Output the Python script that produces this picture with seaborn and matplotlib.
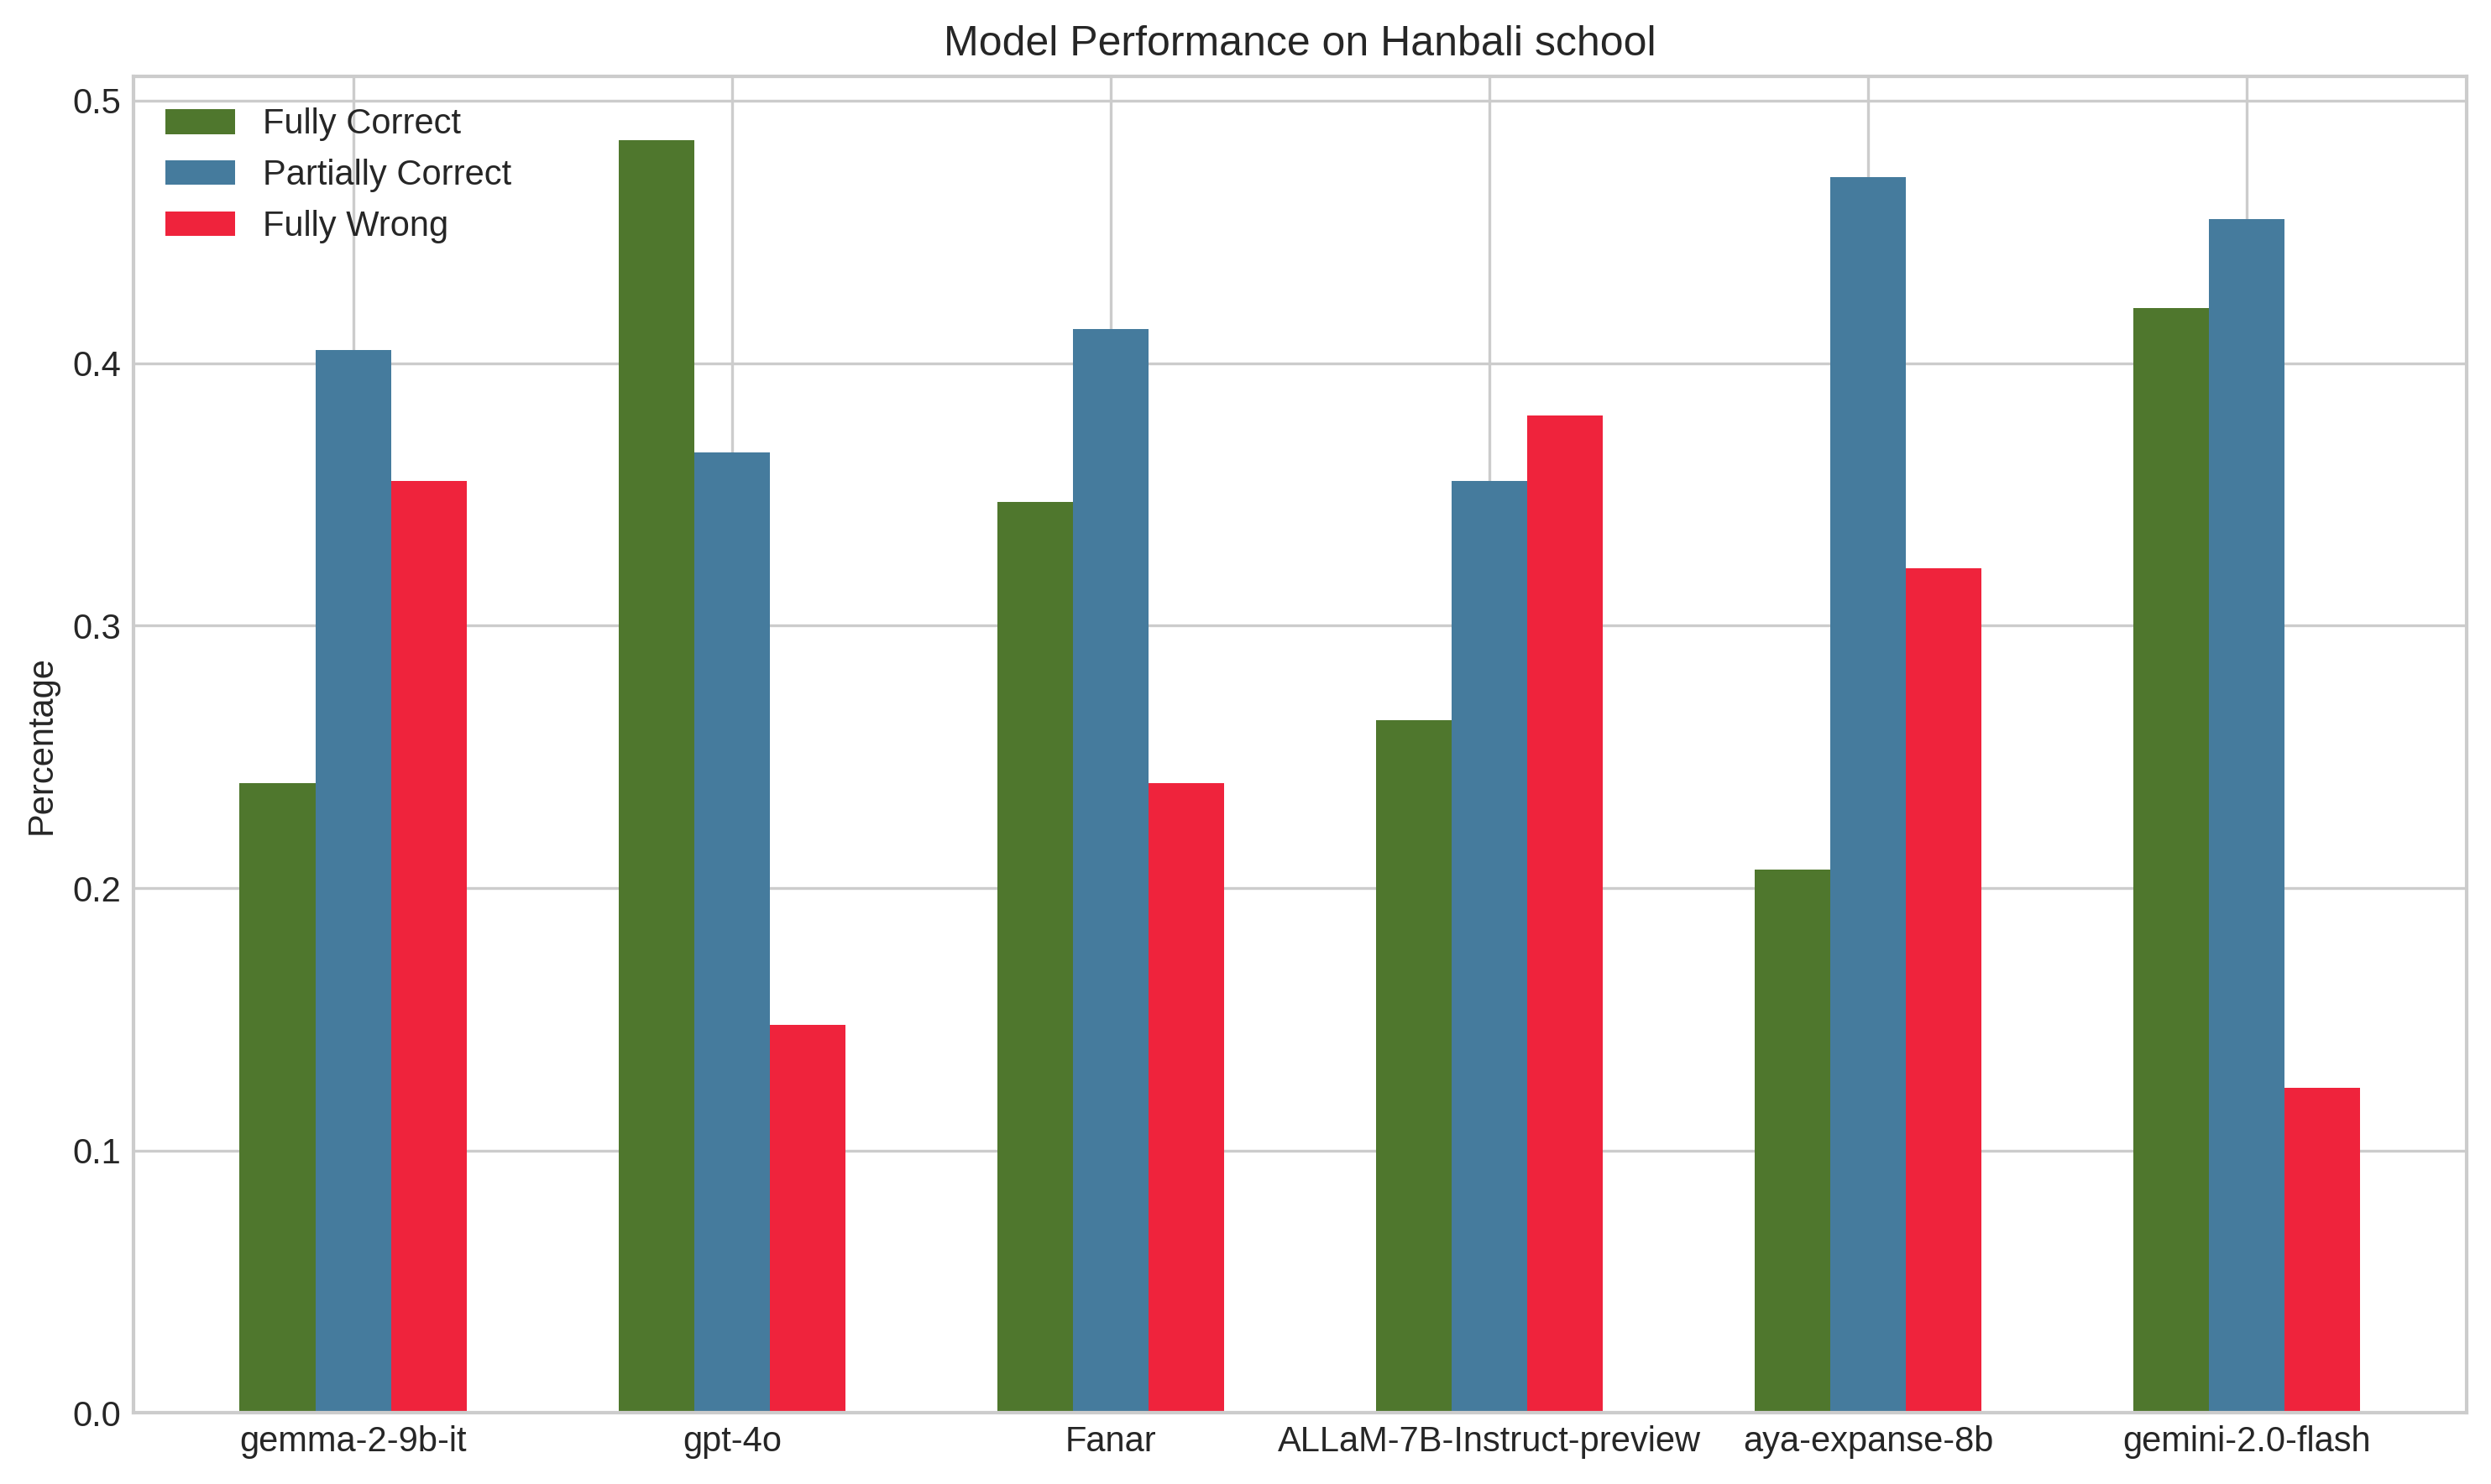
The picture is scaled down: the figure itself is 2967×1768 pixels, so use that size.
import pandas as pd
import seaborn as sns
import matplotlib.pyplot as plt

# data
models = ["gemma-2-9b-it", "gpt-4o", "Fanar", "ALLaM-7B-Instruct-preview",
          "aya-expanse-8b", "gemini-2.0-flash"]
fully_correct = [0.240, 0.485, 0.347, 0.264, 0.207, 0.421]
partially_correct = [0.405, 0.366, 0.413, 0.355, 0.471, 0.455]
fully_wrong = [0.355, 0.148, 0.240, 0.380, 0.322, 0.124]
categories = ["Fully Correct", "Partially Correct", "Fully Wrong"]
colors = ["#4F772D", "#457B9D", "#EF233C"]

#long format table for seaborn
rows = []
for cat, vals in zip(categories, [fully_correct, partially_correct, fully_wrong]):
    for m, v in zip(models, vals):
        rows.append({"model": m, "category": cat, "value": v})
df = pd.DataFrame(rows)

plt.style.use("seaborn-v0_8-whitegrid")
plt.rcParams["font.family"] = ["Liberation Sans", "DejaVu Sans"]

fig, ax = plt.subplots(figsize=(10, 6))
sns.barplot(data=df, x="model", y="value", hue="category", hue_order=categories,
            palette=colors, width=0.6, saturation=1, linewidth=0, errorbar=None, ax=ax)

#restore matplotlib-like limits and grid on the category axis
n = len(models)
ax.set_xlim(-0.58, n - 1 + 0.58)
ax.xaxis.grid(True)
ax.set_axisbelow(True)
ax.set_title("Model Performance on Hanbali school")
ax.set_xlabel("")
ax.set_ylabel("Percentage")
sns.move_legend(ax, "upper left", title=None, frameon=False)

plt.tight_layout()
plt.savefig("out.png", dpi=300, bbox_inches="tight")
